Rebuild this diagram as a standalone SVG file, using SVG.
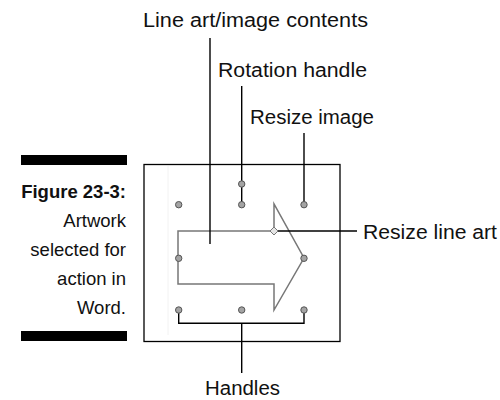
<svg xmlns="http://www.w3.org/2000/svg" width="500" height="400" viewBox="0 0 500 400">
  <style>
    .lbl { font-family: "Liberation Sans", Arial, sans-serif; font-size: 20px; fill: #111; }
    .cap { font-family: "Liberation Sans", Arial, sans-serif; font-size: 18.5px; fill: #111; text-anchor: end; }
    .capb { font-weight: bold; }
    .conn { stroke: #000; stroke-width: 1.4; fill: none; }
    .hdl { fill: #a4a4a4; stroke: #555; stroke-width: 1; }
  </style>
  <rect width="500" height="400" fill="#fff"/>

  <g id="caption">
    <rect x="21" y="155" width="106" height="10" fill="#000"/>
    <rect x="21" y="331" width="106" height="10" fill="#000"/>
    <text class="cap capb" x="126" y="198">Figure 23-3:</text>
    <text class="cap" x="126" y="227">Artwork</text>
    <text class="cap" x="126" y="256">selected for</text>
    <text class="cap" x="126" y="285">action in</text>
    <text class="cap" x="126" y="314">Word.</text>
  </g>

  <g id="frame">
    <rect x="144" y="164.5" width="196" height="177" fill="#fff" stroke="#000" stroke-width="1.3"/>
    <line x1="168" y1="166" x2="168" y2="335" stroke="#f2f2f2" stroke-width="1"/>
  </g>

  <g id="arrow">
    <polygon points="178,231 274,231 274,204 304,258 274,310 274,284 178,284" fill="#fff" stroke="#777" stroke-width="1.5"/>
  </g>

  <g id="connectors">
    <line class="conn" x1="210" y1="38" x2="210" y2="244"/>
    <line class="conn" x1="241.7" y1="86" x2="241.7" y2="205"/>
    <line class="conn" x1="304" y1="133" x2="304" y2="205"/>
    <line class="conn" x1="274" y1="231" x2="357" y2="231"/>
    <path class="conn" d="M178.7,310 V323.3 H304 V310"/>
    <line class="conn" x1="241.7" y1="323.3" x2="241.7" y2="373"/>
  </g>

  <g id="handles">
    <circle class="hdl" cx="241.7" cy="184" r="3.2"/>
    <circle class="hdl" cx="178.7" cy="204.7" r="3.2"/>
    <circle class="hdl" cx="241.7" cy="204.7" r="3.2"/>
    <circle class="hdl" cx="304" cy="204.7" r="3.2"/>
    <circle class="hdl" cx="178.7" cy="258.3" r="3.2"/>
    <circle class="hdl" cx="304" cy="258.3" r="3.2"/>
    <circle class="hdl" cx="178.7" cy="310" r="3.2"/>
    <circle class="hdl" cx="241.7" cy="310" r="3.2"/>
    <circle class="hdl" cx="304" cy="310" r="3.2"/>
    <polygon points="274,227 278,231 274,235 270,231" fill="#e4e4e4" stroke="#777" stroke-width="1"/>
  </g>

  <g id="labels">
    <text class="lbl" x="143" y="27" textLength="225" lengthAdjust="spacingAndGlyphs">Line art/image contents</text>
    <text class="lbl" x="218" y="76.5" textLength="149" lengthAdjust="spacingAndGlyphs">Rotation handle</text>
    <text class="lbl" x="250" y="124" textLength="124" lengthAdjust="spacingAndGlyphs">Resize image</text>
    <text class="lbl" x="363" y="238.5" textLength="134" lengthAdjust="spacingAndGlyphs">Resize line art</text>
    <text class="lbl" x="205" y="395" textLength="75" lengthAdjust="spacingAndGlyphs">Handles</text>
  </g>
</svg>
